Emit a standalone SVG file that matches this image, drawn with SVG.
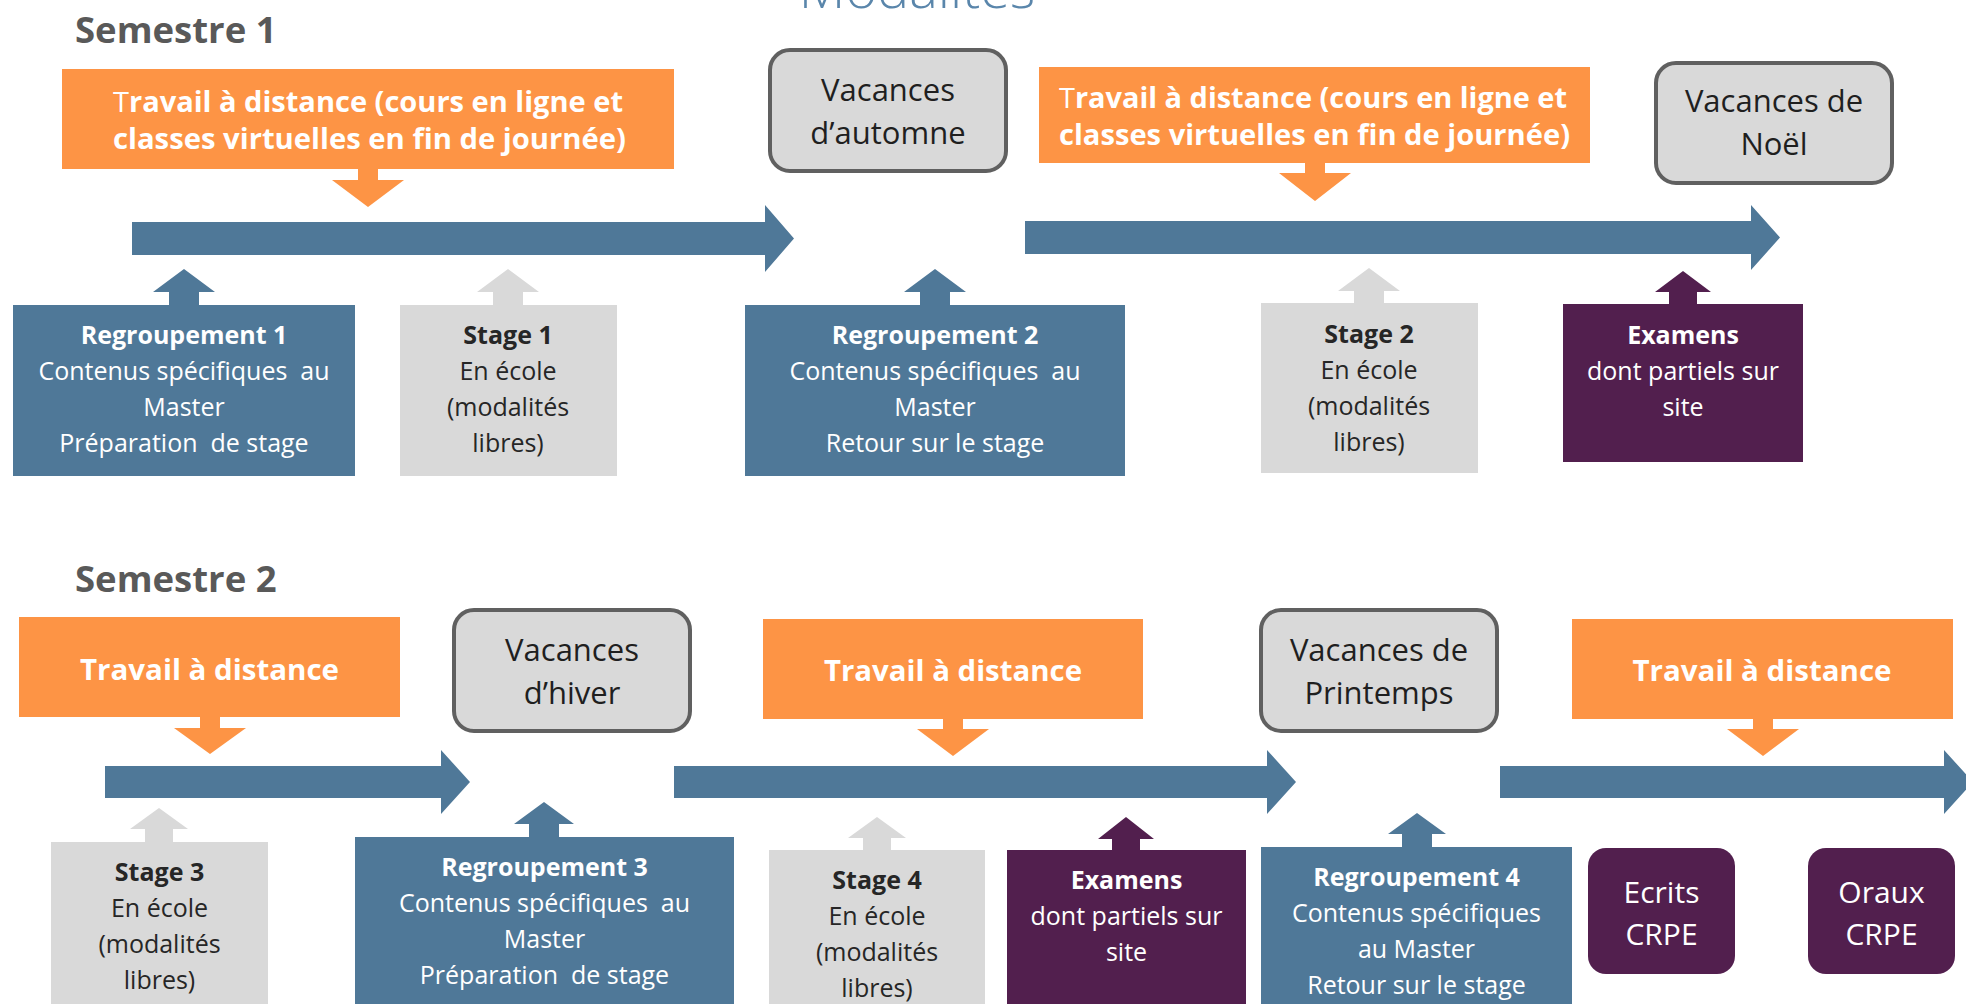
<svg xmlns="http://www.w3.org/2000/svg" width="1966" height="1004" viewBox="0 0 1966 1004">
<style>
text{font-family:"Open Sans","Noto Sans","Liberation Sans",sans-serif}
.title{font-size:54px;font-weight:300;fill:#5a86ab}
.sem{font-size:36.5px;font-weight:700;fill:#595959}
.otxt{font-size:28px;font-weight:700;fill:#ffffff}
.vac{font-size:31px;fill:#1f1f1f}
.w{font-size:25px;fill:#ffffff}
.d{font-size:25px;fill:#262626}
.b{font-weight:700}
.big{font-size:30px;fill:#ffffff}
.orange{fill:#fd9445}
.blue{fill:#4f7898}
.gray{fill:#d9d9d9}
.purple{fill:#521f4e}
.vbox{fill:#d9d9d9;stroke:#606060;stroke-width:4}
</style>
<rect width="1966" height="1004" fill="#ffffff"/>
<text class="title" x="917" y="8" text-anchor="middle">Modalités</text>
<text class="sem" x="75" y="43">Semestre 1</text>
<text class="sem" x="75" y="592">Semestre 2</text>

<g id="connectors">
  <!-- timeline arrows -->
  <path class="blue" d="M132 222 H765 V205 L794 238.5 L765 272 V255 H132 Z"/>
  <path class="blue" d="M1025 221 H1751 V205 L1780 237.5 L1751 270 V254 H1025 Z"/>
  <path class="blue" d="M105 766 H441 V750 L470 782 L441 814 V798 H105 Z"/>
  <path class="blue" d="M674 766 H1267 V750 L1296 782 L1267 814 V798 H674 Z"/>
  <path class="blue" d="M1500 766 H1944 V750 L1973 782 L1944 814 V798 H1500 Z"/>
  <!-- orange down arrows -->
  <path class="orange" d="M358 168 V180 H332 L368 207 L404 180 H378 V168 Z"/>
  <path class="orange" d="M1305 162 V173 H1279 L1315 201 L1351 173 H1325 V162 Z"/>
  <path class="orange" d="M200 716 V728 H174 L210 754 L246 728 H220 V716 Z"/>
  <path class="orange" d="M943 718 V729 H917 L953 756 L989 729 H963 V718 Z"/>
  <path class="orange" d="M1753 718 V729 H1727 L1763 756 L1799 729 H1773 V718 Z"/>
  <!-- up arrows row 1 -->
  <path class="blue" d="M169 306 V292 H153 L184 269 L215 292 H199 V306 Z"/>
  <path class="gray" d="M493 306 V292 H477 L508 269 L539 292 H523 V306 Z"/>
  <path class="blue" d="M920 306 V292 H904 L935 269 L966 292 H950 V306 Z"/>
  <path class="gray" d="M1354 304 V291 H1338 L1369 268 L1400 291 H1384 V304 Z"/>
  <path class="purple" d="M1669 305 V292 H1655 L1683 271 L1711 292 H1697 V305 Z"/>
  <!-- up arrows row 2 -->
  <path class="gray" d="M145 843 V829 H130 L159 808 L188 829 H173 V843 Z"/>
  <path class="blue" d="M529 838 V824 H514 L544 802 L574 824 H559 V838 Z"/>
  <path class="gray" d="M863 851 V838 H848 L877 817 L906 838 H891 V851 Z"/>
  <path class="purple" d="M1112 851 V839 H1098 L1126 817 L1154 839 H1140 V851 Z"/>
  <path class="blue" d="M1402 848 V834 H1388 L1417 813 L1446 834 H1432 V848 Z"/>
</g>

<!-- Semestre 1 -->
<g id="travail1">
  <rect class="orange" x="62" y="69" width="612" height="100"/>
  <text class="otxt" x="113" y="112" textLength="510" lengthAdjust="spacingAndGlyphs"><tspan font-weight="400">T</tspan>ravail à distance (cours en ligne et</text>
  <text class="otxt" x="113" y="149" textLength="513" lengthAdjust="spacingAndGlyphs">classes virtuelles en fin de journée)</text>
</g>
<g id="vacances-automne">
  <rect class="vbox" x="770" y="50" width="236" height="121" rx="20"/>
  <text class="vac" x="888" y="101" text-anchor="middle">Vacances</text>
  <text class="vac" x="888" y="144" text-anchor="middle">d’automne</text>
</g>
<g id="travail2">
  <rect class="orange" x="1039" y="67" width="551" height="96"/>
  <text class="otxt" x="1059" y="108" textLength="508" lengthAdjust="spacingAndGlyphs"><tspan font-weight="400">T</tspan>ravail à distance (cours en ligne et</text>
  <text class="otxt" x="1059" y="145" textLength="511" lengthAdjust="spacingAndGlyphs">classes virtuelles en fin de journée)</text>
</g>
<g id="vacances-noel">
  <rect class="vbox" x="1656" y="63" width="236" height="120" rx="20"/>
  <text class="vac" x="1774" y="112" text-anchor="middle">Vacances de</text>
  <text class="vac" x="1774" y="155" text-anchor="middle">Noël</text>
</g>
<g id="regroupement1">
  <rect class="blue" x="13" y="305" width="342" height="171"/>
  <text class="w" x="184" y="344" text-anchor="middle"><tspan class="b">Regroupement 1</tspan><tspan x="184" dy="36">Contenus spécifiques&#160; au</tspan><tspan x="184" dy="36">Master</tspan><tspan x="184" dy="36">Préparation&#160; de stage</tspan></text>
</g>
<g id="stage1">
  <rect class="gray" x="400" y="305" width="217" height="171"/>
  <text class="d" x="508" y="344" text-anchor="middle"><tspan class="b">Stage 1</tspan><tspan x="508" dy="36">En école</tspan><tspan x="508" dy="36">(modalités</tspan><tspan x="508" dy="36">libres)</tspan></text>
</g>
<g id="regroupement2">
  <rect class="blue" x="745" y="305" width="380" height="171"/>
  <text class="w" x="935" y="344" text-anchor="middle"><tspan class="b">Regroupement 2</tspan><tspan x="935" dy="36">Contenus spécifiques&#160; au</tspan><tspan x="935" dy="36">Master</tspan><tspan x="935" dy="36">Retour sur le stage</tspan></text>
</g>
<g id="stage2">
  <rect class="gray" x="1261" y="303" width="217" height="170"/>
  <text class="d" x="1369" y="343" text-anchor="middle"><tspan class="b">Stage 2</tspan><tspan x="1369" dy="36">En école</tspan><tspan x="1369" dy="36">(modalités</tspan><tspan x="1369" dy="36">libres)</tspan></text>
</g>
<g id="examens1">
  <rect class="purple" x="1563" y="304" width="240" height="158"/>
  <text class="w" x="1683" y="344" text-anchor="middle"><tspan class="b">Examens</tspan><tspan x="1683" dy="36">dont partiels sur</tspan><tspan x="1683" dy="36">site</tspan></text>
</g>

<!-- Semestre 2 -->
<g id="travail3">
  <rect class="orange" x="19" y="617" width="381" height="100"/>
  <text class="otxt" x="209.5" y="680" text-anchor="middle" textLength="259" lengthAdjust="spacingAndGlyphs">Travail à distance</text>
</g>
<g id="vacances-hiver">
  <rect class="vbox" x="454" y="610" width="236" height="121" rx="20"/>
  <text class="vac" x="572" y="661" text-anchor="middle">Vacances</text>
  <text class="vac" x="572" y="704" text-anchor="middle">d’hiver</text>
</g>
<g id="travail4">
  <rect class="orange" x="763" y="619" width="380" height="100"/>
  <text class="otxt" x="953" y="681" text-anchor="middle" textLength="258" lengthAdjust="spacingAndGlyphs">Travail à distance</text>
</g>
<g id="vacances-printemps">
  <rect class="vbox" x="1261" y="610" width="236" height="121" rx="20"/>
  <text class="vac" x="1379" y="661" text-anchor="middle">Vacances de</text>
  <text class="vac" x="1379" y="704" text-anchor="middle">Printemps</text>
</g>
<g id="travail5">
  <rect class="orange" x="1572" y="619" width="381" height="100"/>
  <text class="otxt" x="1762" y="681" text-anchor="middle" textLength="259" lengthAdjust="spacingAndGlyphs">Travail à distance</text>
</g>
<g id="stage3">
  <rect class="gray" x="51" y="842" width="217" height="170"/>
  <text class="d" x="159.5" y="881" text-anchor="middle"><tspan class="b">Stage 3</tspan><tspan x="159.5" dy="36">En école</tspan><tspan x="159.5" dy="36">(modalités</tspan><tspan x="159.5" dy="36">libres)</tspan></text>
</g>
<g id="regroupement3">
  <rect class="blue" x="355" y="837" width="379" height="175"/>
  <text class="w" x="544.5" y="876" text-anchor="middle"><tspan class="b">Regroupement 3</tspan><tspan x="544.5" dy="36">Contenus spécifiques&#160; au</tspan><tspan x="544.5" dy="36">Master</tspan><tspan x="544.5" dy="36">Préparation&#160; de stage</tspan></text>
</g>
<g id="stage4">
  <rect class="gray" x="769" y="850" width="216" height="160"/>
  <text class="d" x="877" y="889" text-anchor="middle"><tspan class="b">Stage 4</tspan><tspan x="877" dy="36">En école</tspan><tspan x="877" dy="36">(modalités</tspan><tspan x="877" dy="36">libres)</tspan></text>
</g>
<g id="examens2">
  <rect class="purple" x="1007" y="850" width="239" height="160"/>
  <text class="w" x="1126.5" y="889" text-anchor="middle"><tspan class="b">Examens</tspan><tspan x="1126.5" dy="36">dont partiels sur</tspan><tspan x="1126.5" dy="36">site</tspan></text>
</g>
<g id="regroupement4">
  <rect class="blue" x="1261" y="847" width="311" height="165"/>
  <text class="w" x="1416.5" y="886" text-anchor="middle"><tspan class="b">Regroupement 4</tspan><tspan x="1416.5" dy="36">Contenus spécifiques</tspan><tspan x="1416.5" dy="36">au Master</tspan><tspan x="1416.5" dy="36">Retour sur le stage</tspan></text>
</g>
<g id="ecrits-crpe">
  <rect class="purple" x="1588" y="848" width="147" height="126" rx="18"/>
  <text class="big" x="1661.5" y="903" text-anchor="middle">Ecrits</text>
  <text class="big" x="1661.5" y="945" text-anchor="middle">CRPE</text>
</g>
<g id="oraux-crpe">
  <rect class="purple" x="1808" y="848" width="147" height="126" rx="18"/>
  <text class="big" x="1881.5" y="903" text-anchor="middle">Oraux</text>
  <text class="big" x="1881.5" y="945" text-anchor="middle">CRPE</text>
</g>
</svg>
